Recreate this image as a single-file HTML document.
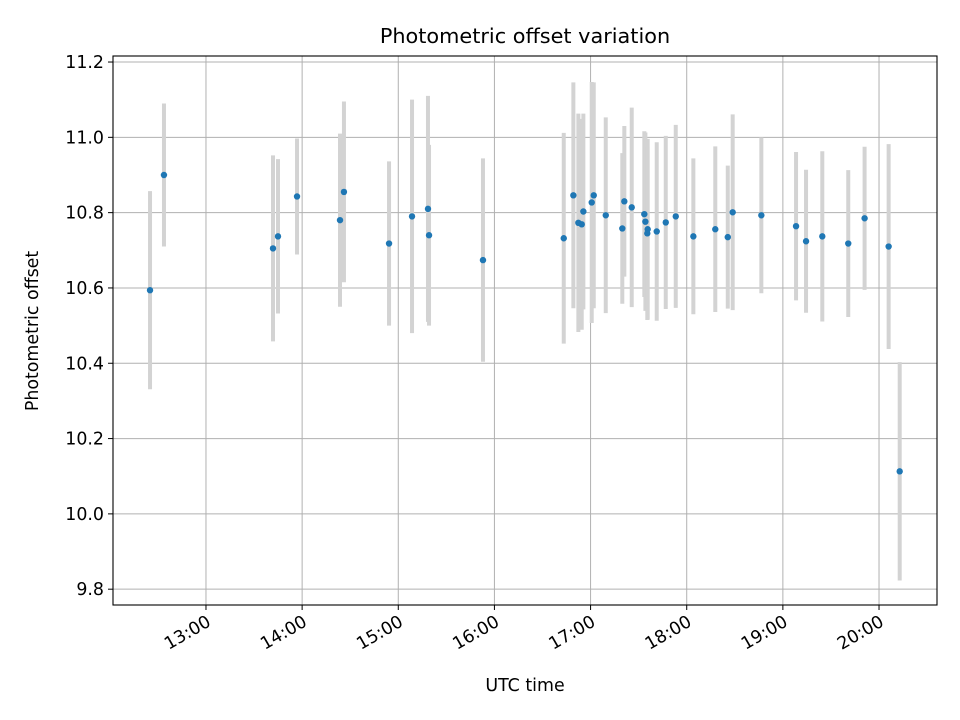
<!DOCTYPE html>
<html><head><meta charset="utf-8"><style>
body{margin:0;background:#fff;}
svg{display:block;font-family:"DejaVu Sans","Liberation Sans",sans-serif;}
</style></head><body>
<svg id="chart" width="960" height="720" viewBox="0 0 960 720" xmlns="http://www.w3.org/2000/svg">
<rect width="960" height="720" fill="#fff"/>
<g id="grid"></g>
<g id="errs"></g>
<g id="pts"></g>
<rect x="113" y="56" width="824" height="549" fill="none" stroke="#000" stroke-width="1.1"/>
<g id="axes"></g>
<text x="525" y="43" font-size="20.8" text-anchor="middle">Photometric offset variation</text>
<text x="525" y="691" font-size="17.4" text-anchor="middle">UTC time</text>
<text x="0" y="0" font-size="17.4" text-anchor="middle" transform="translate(38,331) rotate(-90)">Photometric offset</text>
</svg>
<script>
const times = [12.418,12.563,13.697,13.749,13.947,14.394,14.435,14.904,15.143,15.309,15.320,15.881,
16.721,16.821,16.873,16.908,16.925,17.012,17.033,17.158,17.330,17.351,17.428,17.559,17.570,17.594,17.590,17.688,17.782,17.886,18.069,18.297,18.427,18.478,18.776,
19.137,19.241,19.410,19.680,19.850,20.100,20.215];
const offsets = [10.594,10.900,10.705,10.737,10.843,10.780,10.855,10.718,10.790,10.810,10.740,10.674,
10.732,10.846,10.773,10.769,10.803,10.827,10.846,10.793,10.758,10.830,10.814,10.796,10.776,10.756,10.745,10.750,10.774,10.790,10.737,10.756,10.735,10.801,10.793,
10.764,10.724,10.737,10.718,10.785,10.710,10.113];
const errors = [0.263,0.19,0.247,0.205,0.154,0.23,0.24,0.218,0.31,0.30,0.24,0.27,
0.28,0.30,0.29,0.28,0.26,0.32,0.30,0.26,0.20,0.20,0.265,0.22,0.237,0.24,0.23,0.237,0.23,0.243,0.207,0.22,0.19,0.26,0.207,
0.197,0.19,0.226,0.195,0.19,0.272,0.29];
const yTicks = [9.8,10.0,10.2,10.4,10.6,10.8,11.0,11.2];
const xTicks = [13,14,15,16,17,18,19,20];
const xTickLabels = ["13:00","14:00","15:00","16:00","17:00","18:00","19:00","20:00"];

const L=113,R=937,T=56,B=605;
const xMin=12.033,xMax=20.603,yMin=9.758,yMax=11.216;
const xs=h=>L+(h-xMin)/(xMax-xMin)*(R-L);
const ys=v=>B-(v-yMin)/(yMax-yMin)*(B-T);
const NS="http://www.w3.org/2000/svg";
function mk(tag,attrs,parent){const e=document.createElementNS(NS,tag);for(const k in attrs)e.setAttribute(k,attrs[k]);parent.appendChild(e);return e;}
const grid=document.getElementById('grid'),axes=document.getElementById('axes');
const errs=document.getElementById('errs'),pts=document.getElementById('pts');
yTicks.forEach(v=>{
  const y=ys(v);
  const g=mk('line',{x1:L,x2:R,y1:y,y2:y,stroke:'#b0b0b0','stroke-width':1},grid);
  
  
  mk('line',{x1:L-5,x2:L,y1:y,y2:y,stroke:'#000'},axes);
  const t=mk('text',{x:L-9,y:y+6,'font-size':17.4,'text-anchor':'end'},axes);
  t.textContent=v.toFixed(1);
  
  
});
xTicks.forEach((h,i)=>{
  const x=xs(h);
  const g=mk('line',{x1:x,x2:x,y1:T,y2:B,stroke:'#b0b0b0','stroke-width':1},grid);
  
  
  mk('line',{x1:x,x2:x,y1:B,y2:B+5,stroke:'#000'},axes);
  const t=mk('text',{x:0,y:0,'font-size':17.4,'text-anchor':'end',transform:`translate(${x+6},${B+20}) rotate(-30)`},axes);
  t.textContent=xTickLabels[i];
  
  
});
times.forEach((h,i)=>{
  const x=xs(h);
  const e=mk('line',{x1:x,x2:x,y1:ys(offsets[i]+errors[i]),y2:ys(offsets[i]-errors[i]),stroke:'#d3d3d3','stroke-width':4},errs);
  
  
  const c=mk('circle',{cx:x,cy:ys(offsets[i]),r:3.2,fill:'#1f77b4'},pts);
  
  
});
</script>
</body></html>
